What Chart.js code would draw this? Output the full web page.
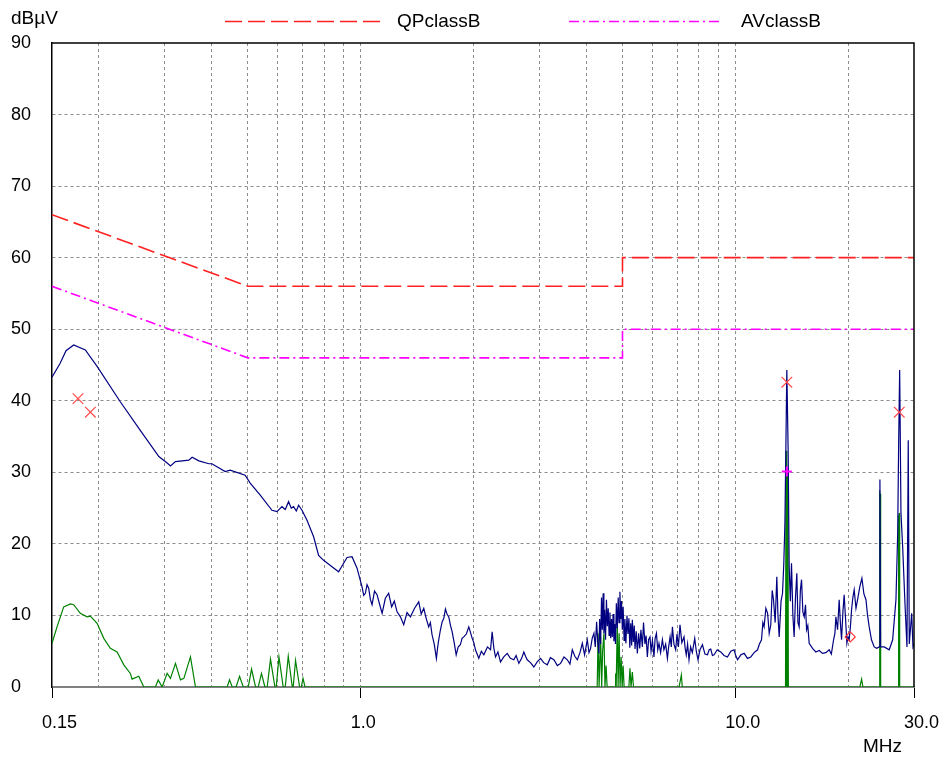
<!DOCTYPE html>
<html>
<head>
<meta charset="utf-8">
<script src="https://cdn.jsdelivr.net/npm/chart.js@4.4.1/dist/chart.umd.min.js"></script>
<style>
  html, body { margin: 0; padding: 0; background: #fff; }
  canvas { display: block; }
</style>
</head>
<body>
<canvas id="emi" width="949" height="761"></canvas>
<script>
// Axis ticks
const freqTicks = [0.15, 0.2, 0.3, 0.4, 0.5, 0.6, 0.7, 0.8, 0.9, 1, 2, 3, 4, 5, 6, 7, 8, 9, 10, 20, 30];
const freqLabels = { 0.15: "0.15", 1: "1.0", 10: "10.0", 30: "30.0" };
const levelTicks = [0, 10, 20, 30, 40, 50, 60, 70, 80, 90];

// Limit lines (MHz / dBµV)
const qpLimFreq = [0.15, 0.5, 5, 5, 30];
const qpLimLevel = [66, 56, 56, 60, 60];
const avLimFreq = [0.15, 0.5, 5, 5, 30];
const avLimLevel = [56, 46, 46, 50, 50];

const QP_COLOR = "#ff2020";
const AV_COLOR = "#ff00ff";
const QP_DASH = [17, 6];
const AV_DASH = [10, 4, 2, 4];
const LIMIT_WIDTH = 1.6;

// Peak scan
const pkFreq = [
  0.150, 0.1576, 0.1635, 0.1714, 0.1841, 0.1979, 0.2280, 0.2578, 0.2893, 0.3044,
  0.3107, 0.3204, 0.3478, 0.3549, 0.3699, 0.3934, 0.4008, 0.4349, 0.4485, 0.4917,
  0.5071, 0.5395, 0.5797, 0.5979, 0.6166, 0.6292, 0.6421, 0.6529, 0.6622, 0.6733,
  0.6829, 0.6973, 0.7191, 0.7490, 0.7722, 0.7964, 0.8385, 0.8733, 0.9006, 0.9198,
  0.9484, 0.9781,
  1.0086, 1.019, 1.0294, 1.040, 1.0505, 1.062, 1.0727, 1.089, 1.106, 1.123,
  1.141, 1.164, 1.188, 1.210, 1.230, 1.251, 1.277, 1.303, 1.330, 1.358,
  1.393, 1.429, 1.451, 1.474, 1.496, 1.519, 1.535, 1.551, 1.572, 1.593,
  1.605, 1.616, 1.633, 1.650, 1.667, 1.684, 1.700, 1.719, 1.737, 1.755,
  1.777, 1.799, 1.822, 1.846, 1.865, 1.885, 1.915, 1.944, 1.965, 1.985,
  2.005, 2.025, 2.046, 2.067, 2.10, 2.132, 2.18, 2.222, 2.244, 2.268,
  2.291, 2.325, 2.362, 2.41, 2.462, 2.51, 2.564, 2.60, 2.644, 2.69,
  2.727, 2.755, 2.784, 2.84, 2.900, 2.96, 3.022, 3.08, 3.149, 3.21,
  3.280, 3.35, 3.418, 3.49, 3.562, 3.62, 3.673, 3.73, 3.788, 3.85,
  3.906, 3.96, 4.027, 4.07, 4.110, 4.15, 4.195, 4.23, 4.265, 4.295,
  4.325, 4.345, 4.371, 4.395, 4.417, 4.440, 4.460, 4.480, 4.505, 4.530,
  4.555, 4.580, 4.605, 4.628, 4.650, 4.675, 4.696, 4.720, 4.744, 4.764,
  4.790, 4.815, 4.843, 4.870, 4.895, 4.921, 4.945, 4.970, 4.995, 5.020,
  5.050, 5.075, 5.105, 5.140, 5.170, 5.202, 5.230, 5.260, 5.290, 5.312,
  5.345, 5.375, 5.400, 5.440, 5.478, 5.52, 5.560, 5.600, 5.649, 5.690,
  5.740, 5.78, 5.826, 5.87, 5.920, 5.96, 6.01, 6.067, 6.11, 6.160,
  6.21, 6.257, 6.32, 6.390, 6.45, 6.52, 6.590, 6.64, 6.700, 6.750,
  6.796, 6.86, 6.934, 6.99, 7.05, 7.120, 7.20, 7.298, 7.35, 7.400,
  7.46, 7.525, 7.60, 7.68, 7.795, 7.87, 7.955, 8.05, 8.174, 8.30,
  8.430, 8.52, 8.600, 8.69, 8.778, 8.95, 9.148, 9.33, 9.531, 9.73,
  9.926, 10.03, 10.14, 10.35, 10.56, 10.78, 11.00, 11.23, 11.47, 11.60,
  11.75, 11.85, 11.94, 12.07, 12.20, 12.32, 12.44, 12.55, 12.65, 12.78,
  12.91, 13.00, 13.10, 13.25, 13.37, 13.47, 13.57, 13.65, 13.73, 13.84,
  13.93, 14.03, 14.13, 14.25, 14.36, 14.48, 14.60, 14.70, 14.81, 14.92,
  15.03, 15.15, 15.28, 15.40, 15.50, 15.62, 15.75, 16.08, 16.41, 16.75,
  17.10, 17.45, 17.81, 18.05, 18.30, 18.45, 18.56, 18.75, 18.94, 19.08,
  19.22, 19.38, 19.53, 19.70, 19.86, 20.00, 20.14, 20.30, 20.44, 20.60,
  20.77, 21.00, 21.21, 21.50, 21.78, 22.05, 22.33, 22.55, 22.78, 23.10,
  23.49, 23.85, 24.23, 24.33, 24.43, 24.98, 25.76, 26.31, 26.85, 27.14,
  27.30, 27.47, 27.69, 27.98, 28.38, 28.73, 28.96, 29.14, 29.58, 29.81,
  30.0
];
const pkLevel = [
  43.3, 45.2, 47.0, 47.8, 47.1, 44.8, 39.9, 35.9, 32.2, 31.3,
  30.9, 31.5, 31.7, 32.1, 31.6, 31.2, 31.2, 30.1, 30.3, 29.6,
  28.5, 26.8, 24.7, 24.5, 25.2, 24.8, 25.9, 25.0, 25.2, 24.6,
  25.4, 24.7, 23.3, 21.0, 18.4, 17.7, 16.8, 16.1, 17.3, 18.1,
  18.2, 16.6,
  14.0, 12.8, 13.1, 14.3, 13.8, 12.2, 11.5, 13.4, 12.9, 11.6,
  10.3, 12.4, 13.1, 11.2, 12.0, 10.5, 9.8, 8.7, 10.4, 9.8,
  11.0, 11.9, 10.2, 11.0, 9.6, 8.4, 9.0, 7.3, 6.0, 4.0,
  5.5, 6.6, 8.0, 9.1, 9.6, 10.9, 10.2, 9.8, 8.6, 7.7,
  6.2, 4.5, 5.6, 5.9, 6.8, 7.0, 7.4, 8.4, 7.6, 6.8,
  6.2, 5.2, 4.6, 4.0, 5.0, 4.5, 5.6, 5.2, 7.7, 5.4,
  4.2, 4.9, 3.5, 4.2, 4.7, 4.0, 3.8, 4.4, 3.3, 4.0,
  4.9, 4.3, 3.8, 3.4, 2.8, 3.5, 4.0, 3.4, 3.1, 4.1,
  3.8, 3.0, 3.3, 4.2, 3.8, 3.2, 5.2, 4.3, 3.8, 4.8,
  6.1, 4.5, 6.6, 4.8, 5.4, 6.8, 7.5, 5.6, 9.1, 6.2,
  4.7, 9.5, 6.0, 12.5, 8.0, 13.1, 7.5, 10.8, 6.6, 12.2,
  8.5, 11.0, 7.2, 10.4, 6.8, 9.5, 7.0, 10.2, 6.4, 8.8,
  6.0, 11.7, 8.2, 12.5, 9.0, 13.3, 9.5, 12.0, 8.0, 11.2,
  6.5, 9.5, 6.1, 10.0, 7.4, 9.6, 5.5, 8.9, 5.8, 9.4,
  6.3, 8.6, 5.3, 7.8, 4.7, 7.5, 5.4, 8.0, 5.6, 9.0,
  6.0, 7.2, 4.2, 6.6, 7.0, 5.0, 6.5, 4.2, 6.8, 7.5,
  5.2, 6.1, 4.8, 6.6, 5.2, 6.0, 4.0, 5.6, 7.0, 5.6,
  8.4, 6.0, 5.2, 7.4, 5.6, 8.7, 6.2, 7.0, 5.4, 4.5,
  6.0, 3.8, 5.6, 4.8, 6.8, 5.0, 3.8, 5.2, 5.9, 4.6,
  4.5, 5.2, 5.3, 4.4, 4.5, 5.2, 4.9, 4.4, 4.2, 5.0,
  5.2, 4.4, 3.8, 4.5, 4.7, 4.0, 4.2, 4.8, 5.2, 6.0,
  6.6, 9.0, 8.4, 11.0, 10.3, 7.5, 8.7, 13.5, 12.2, 9.0,
  15.4, 10.0, 7.0, 12.0, 13.1, 17.0, 22.9, 33.6, 44.3, 33.1,
  16.8, 12.0, 17.3, 10.0, 7.0, 12.5, 15.9, 9.0, 8.4, 13.5,
  15.0, 10.5, 9.8, 11.5, 8.0, 8.6, 6.1, 5.4, 4.9, 5.1,
  4.7, 4.8, 5.2, 4.6, 6.6, 7.5, 9.8, 8.0, 12.2, 9.0,
  6.6, 10.5, 12.9, 9.5, 6.1, 7.0, 6.6, 8.5, 10.8, 12.5,
  13.6, 11.0, 12.2, 14.0, 15.2, 13.0, 12.2, 10.0, 8.4, 6.6,
  5.6, 5.4, 5.6, 29.0, 5.6, 5.6, 5.2, 6.6, 12.2, 21.5,
  34.1, 44.3, 24.3, 19.6, 11.7, 5.6, 34.5, 6.0, 10.3, 5.6,
  6.0
];

// Average scan
const avFreq = [
  0.150, 0.1547, 0.1612, 0.1679, 0.1714, 0.1785, 0.1860, 0.1899, 0.1979, 0.2062,
  0.2147, 0.2238, 0.2332, 0.2428, 0.2454, 0.2557, 0.2637, 0.2834, 0.2881, 0.2953,
  0.3044, 0.3107, 0.3204, 0.3304, 0.3374, 0.3513, 0.3623, 0.4403, 0.4466, 0.4541,
  0.4650, 0.4751, 0.4861, 0.5011, 0.5114, 0.5241, 0.5329, 0.5436, 0.5551, 0.5630,
  0.5746, 0.5904, 0.5952, 0.6052, 0.6214, 0.6292, 0.6409, 0.6569, 0.6605, 0.6703,
  0.6871, 0.6943, 0.7017, 0.7103, 4.28, 4.304, 4.33, 4.371, 4.40, 4.425,
  4.461, 4.49, 4.52, 4.55, 4.78, 4.792, 4.81, 4.843, 4.867, 4.898,
  4.927, 4.958, 4.99, 5.02, 5.05, 5.20, 5.235, 5.27, 5.312, 5.35,
  7.08, 7.18, 7.22,
  13.62, 13.66, 13.70, 13.74, 13.78, 13.82, 13.86,
  21.51, 21.74, 21.92,
  24.22, 24.26, 24.30, 24.34, 24.38, 24.42, 24.46,
  27.22, 27.27, 27.32, 27.37, 27.42, 27.47, 27.52,
  30.0
];
const avLevel = [
  6.1, 8.4, 11.2, 11.6, 11.5, 10.3, 9.8, 9.9, 8.9, 6.8,
  5.4, 4.9, 3.1, 1.9, 1.1, 1.5, 0, 0, 1.0, 0,
  1.9, 1.2, 3.3, 1.0, 1.2, 4.2, 0, 0, 1.0, 0,
  0, 1.5, 0, 0, 2.5, 0, 0, 1.9, 0, 0,
  3.9, 0, 0, 4.2, 0, 0, 4.3, 0, 0, 3.7,
  0, 0, 1.2, 0, 0, 7.5, 0, 7.0, 0, 5.0,
  7.5, 0, 3.0, 0, 0, 1.9, 0, 9.4, 0, 7.5,
  0, 4.2, 0, 3.0, 0, 0, 2.6, 0, 2.1, 0,
  0, 1.7, 0,
  0, 33.0, 0, 31.5, 0, 30.0, 0,
  0, 1.1, 0,
  0, 27.5, 0, 27.5, 0, 27.0, 0,
  0, 24.0, 0, 24.3, 0, 23.5, 0,
  0
];

// Final measurements
const qpMarkFreq = [0.176, 0.1899, 13.73, 27.40];
const qpMarkLevel = [40.3, 38.4, 42.6, 38.4];
const avMarkFreq = [13.73];
const avMarkLevel = [30.1];
const avOkFreq = [20.27];
const avOkLevel = [7.0];

const pts = (fx, ly) => fx.map((f, i) => ({ x: f, y: ly[i] }));
const clear = "rgba(0,0,0,0)";
const gridGray = "#8c8c8c";

Chart.defaults.font.family = "Arial, 'Liberation Sans', sans-serif";
Chart.defaults.font.size = 18;
Chart.defaults.color = "#000";

// Frame, unit labels and line legend
const frameAndLegend = {
  id: "frameAndLegend",
  afterDraw(chart) {
    const { ctx, chartArea: a } = chart;
    ctx.save();
    ctx.strokeStyle = "#000";
    ctx.lineWidth = 1.5;
    ctx.beginPath();
    ctx.moveTo(a.left, a.top);
    ctx.lineTo(a.right, a.top);
    ctx.lineTo(a.right, a.bottom);
    ctx.stroke();

    ctx.fillStyle = "#000";
    ctx.font = "19px Arial, 'Liberation Sans', sans-serif";
    ctx.textBaseline = "middle";
    ctx.textAlign = "left";
    ctx.fillText("dBµV", 11, 19);
    ctx.fillText("MHz", 863, 747);

    const items = [
      { label: "QPclassB", color: QP_COLOR, dash: QP_DASH, x0: 225, x1: 380, tx: 397 },
      { label: "AVclassB", color: AV_COLOR, dash: AV_DASH, x0: 569, x1: 721, tx: 741 },
    ];
    items.forEach(it => {
      ctx.save();
      ctx.strokeStyle = it.color;
      ctx.lineWidth = LIMIT_WIDTH;
      ctx.setLineDash(it.dash);
      ctx.beginPath();
      ctx.moveTo(it.x0, 21.5);
      ctx.lineTo(it.x1, 21.5);
      ctx.stroke();
      ctx.restore();
      ctx.fillStyle = "#000";
      ctx.fillText(it.label, it.tx, 22);
    });
    ctx.restore();
  }
};

new Chart(document.getElementById("emi"), {
  type: "line",
  data: {
    datasets: [
      {
        label: "Peak",
        data: pts(pkFreq, pkLevel),
        borderColor: "#000080",
        borderWidth: 1.2,
        pointRadius: 0,
        order: 4
      },
      {
        label: "Average",
        data: pts(avFreq, avLevel),
        borderColor: "#008000",
        borderWidth: 1.2,
        pointRadius: 0,
        order: 5
      },
      {
        label: "QPclassB",
        data: pts(qpLimFreq, qpLimLevel),
        borderColor: QP_COLOR,
        borderWidth: LIMIT_WIDTH,
        borderDash: QP_DASH,
        pointRadius: 0,
        order: 3
      },
      {
        label: "AVclassB",
        data: pts(avLimFreq, avLimLevel),
        borderColor: AV_COLOR,
        borderWidth: LIMIT_WIDTH,
        borderDash: AV_DASH,
        pointRadius: 0,
        order: 2
      },
      {
        label: "QP",
        data: pts(qpMarkFreq, qpMarkLevel),
        showLine: false,
        pointStyle: "crossRot",
        pointRadius: 7.5,
        pointBorderColor: "#ff4a4a",
        pointBorderWidth: 1.2,
        order: 1
      },
      {
        label: "AV",
        data: pts(avMarkFreq, avMarkLevel),
        showLine: false,
        pointStyle: "cross",
        pointRadius: 5,
        pointBorderColor: AV_COLOR,
        pointBorderWidth: 2,
        order: 1
      },
      {
        label: "AV pass",
        data: pts(avOkFreq, avOkLevel),
        showLine: false,
        pointStyle: "rectRot",
        pointRadius: 5,
        pointBorderColor: "#ff3030",
        pointBackgroundColor: clear,
        pointBorderWidth: 1.2,
        order: 1
      }
    ]
  },
  options: {
    responsive: false,
    animation: false,
    devicePixelRatio: 1,
    layout: { padding: { left: 11, top: 43, right: 35, bottom: 0 } },
    plugins: {
      legend: { display: false },
      tooltip: { enabled: false }
    },
    scales: {
      x: {
        type: "logarithmic",
        min: 0.15,
        max: 30,
        afterBuildTicks: ax => { ax.ticks = freqTicks.map(v => ({ value: v })); },
        afterFit: ax => { ax.height = 74; ax.paddingLeft = 0; ax.paddingRight = 0; },
        ticks: {
          autoSkip: false,
          maxRotation: 0,
          align: "start",
          labelOffset: -10,
          padding: 14,
          callback: v => freqLabels[v] || ""
        },
        grid: {
          color: c => (c.tick && (c.tick.value === 0.15 || c.tick.value === 30)) ? clear : gridGray,
          tickColor: c => (c.tick && freqLabels[c.tick.value]) ? "#000" : clear,
          tickLength: 11,
          tickWidth: 1
        },
        border: { color: "#808080", width: 2, dash: [3, 3] }
      },
      y: {
        min: 0,
        max: 90,
        afterBuildTicks: ax => { ax.ticks = levelTicks.map(v => ({ value: v })); },
        afterFit: ax => { ax.width = 41; },
        ticks: { crossAlign: "far" },
        grid: {
          drawTicks: false,
          color: c => (c.tick && (c.tick.value === 0 || c.tick.value === 90)) ? clear : gridGray
        },
        border: { color: "#000", width: 1.5, dash: [3, 3] }
      }
    }
  },
  plugins: [frameAndLegend]
});
</script>
</body>
</html>
